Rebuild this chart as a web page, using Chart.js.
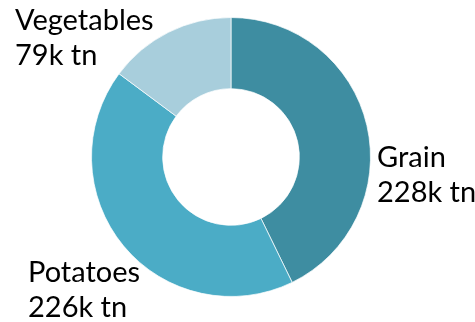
<!DOCTYPE html>
<html>
<head>
<meta charset="utf-8">
<script src="https://cdn.jsdelivr.net/npm/chart.js@4/dist/chart.umd.min.js"></script>
<style>
  html, body { margin: 0; padding: 0; background: #fff; }
  #wrap { width: 475px; height: 322px; position: relative; }
</style>
</head>
<body>
<div id="wrap"><canvas id="harvestChart"></canvas></div>
<script>
const categories = ['Grain', 'Potatoes', 'Vegetables'];
const harvest = [228, 226, 79]; // thousand tonnes
const sliceColors = ['#3e8da1', '#4bacc6', '#a8cedc'];

// label block offsets from the ring centre (left edge, first baseline)
const labelOffsets = [[146, 10], [-203, 125], [-216, -127]];

const sliceLabels = {
  id: 'sliceLabels',
  afterDatasetsDraw(chart) {
    const ctx = chart.ctx;
    const arcs = chart.getDatasetMeta(0).data;
    ctx.save();
    ctx.font = '29px Lato';
    ctx.fillStyle = '#000';
    ctx.textAlign = 'left';
    ctx.textBaseline = 'alphabetic';
    arcs.forEach((arc, i) => {
      const x = arc.x + labelOffsets[i][0];
      const y = arc.y + labelOffsets[i][1];
      ctx.fillText(categories[i], x, y);
      ctx.fillText(harvest[i] + 'k tn', x, y + 35);
    });
    ctx.restore();
  }
};

new Chart(document.getElementById('harvestChart'), {
  type: 'doughnut',
  data: {
    labels: categories,
    datasets: [{
      data: harvest,
      backgroundColor: sliceColors,
      borderColor: 'rgba(255,255,255,0.7)',
      borderWidth: 1,
    }],
  },
  options: {
    responsive: true,
    maintainAspectRatio: false,
    animation: false,
    cutout: '49%',
    layout: { padding: { left: 91, right: 104, top: 17, bottom: 25 } },
    plugins: {
      legend: { display: false },
      tooltip: { enabled: false },
    },
  },
  plugins: [sliceLabels],
});
</script>
</body>
</html>
